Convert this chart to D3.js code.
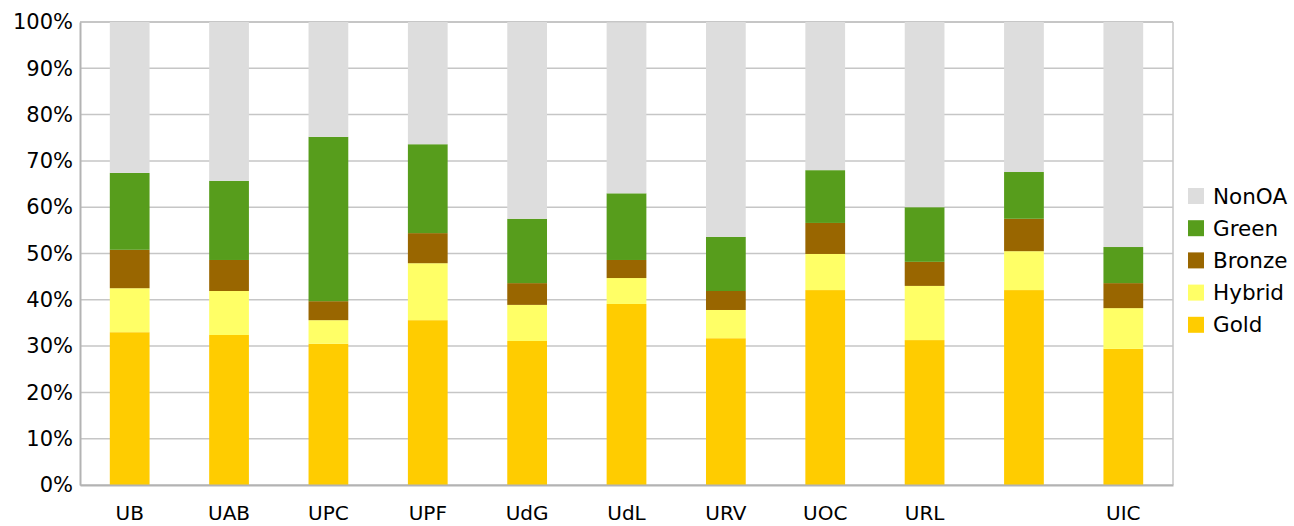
<!DOCTYPE html>
<html>
<head>
<meta charset="utf-8">
<script src="https://cdn.jsdelivr.net/npm/d3@7"></script>
<style>
  body { margin: 0; background: #fff; }
  svg text { font-family: "DejaVu Sans", Verdana, sans-serif; fill: #000; }
</style>
</head>
<body>
<svg id="chart"></svg>
<script>
// universities (the tenth one has no label in the original)
var categories = ["UB", "UAB", "UPC", "UPF", "UdG", "UdL", "URV", "UOC", "URL", "", "UIC"];
var series = ["Gold", "Hybrid", "Bronze", "Green", "NonOA"];

// percentages per series, same order as categories
var gold   = [33.0, 32.4, 30.5, 35.6, 31.1, 39.1, 31.7, 42.1, 31.3, 42.1, 29.4];
var hybrid = [ 9.5,  9.5,  5.1, 12.3,  7.8,  5.6,  6.1,  7.8, 11.7,  8.4,  8.8];
var bronze = [ 8.3,  6.7,  4.1,  6.5,  4.7,  3.9,  4.1,  6.7,  5.2,  7.0,  5.4];
var green  = [16.6, 17.1, 35.5, 19.2, 13.9, 14.4, 11.7, 11.4, 11.8, 10.1,  7.8];
var nonoa  = [32.6, 34.3, 24.8, 26.4, 42.5, 36.9, 46.4, 32.0, 40.0, 32.4, 48.6];

var yTicks = [0, 10, 20, 30, 40, 50, 60, 70, 80, 90, 100];
var colors = ["#ffcc00", "#ffff66", "#996600", "#579d1c", "#dddddd"];

var width = 1294, height = 526;
var margin = {top: 22, right: 121, bottom: 41, left: 80};

var values = [gold, hybrid, bronze, green, nonoa];
var rows = categories.map(function(c, i) {
    var r = {idx: i, name: c};
    series.forEach(function(s, k) { r[s] = values[k][i]; });
    return r;
});

var svg = d3.select("#chart").attr("width", width).attr("height", height);

var x = d3.scaleBand()
    .domain(d3.range(categories.length))
    .range([margin.left, width - margin.right])
    .paddingInner(0.6)
    .paddingOuter(0.3);

var y = d3.scaleLinear()
    .domain([0, 100])
    .range([height - margin.bottom, margin.top]);

var color = d3.scaleOrdinal().domain(series).range(colors);

// gridlines
svg.append("g")
    .selectAll("line")
    .data(yTicks)
    .enter()
    .append("line")
    .attr("x1", margin.left)
    .attr("x2", width - margin.right)
    .attr("y1", function(d) { return y(d); })
    .attr("y2", function(d) { return y(d); })
    .attr("stroke", function(d) { return d == 100 ? "#b3b3b3" : "#c6c6c6"; })
    .attr("stroke-width", 1.5);

// right border
svg.append("line")
    .attr("x1", width - margin.right).attr("x2", width - margin.right)
    .attr("y1", margin.top).attr("y2", height - margin.bottom)
    .attr("stroke", "#c6c6c6").attr("stroke-width", 1.5);

var stack = d3.stack().keys(series);

svg.append("g")
    .selectAll("g")
    .data(stack(rows))
    .enter()
    .append("g")
    .attr("fill", function(d) { return color(d.key); })
    .selectAll("rect")
    .data(function(d) { return d; })
    .enter()
    .append("rect")
    .attr("x", function(d) { return x(d.data.idx); })
    .attr("width", x.bandwidth())
    .attr("y", function(d) { return y(d[1]); })
    .attr("height", function(d) { return y(d[0]) - y(d[1]); });

// y axis
var yAxis = svg.append("g")
    .attr("transform", "translate(" + margin.left + ",0)")
    .call(d3.axisLeft(y).tickValues(yTicks).tickSize(0).tickPadding(7)
        .tickFormat(function(d) { return d + "%"; }));
yAxis.select(".domain").attr("stroke", "#b3b3b3").attr("stroke-width", 2);
yAxis.selectAll("text").attr("font-size", "21px").attr("fill", "#000");

// x axis
var xAxis = svg.append("g")
    .attr("transform", "translate(0," + (height - margin.bottom) + ")")
    .call(d3.axisBottom(x).tickSize(0).tickPadding(21)
        .tickFormat(function(i) { return categories[i]; }));
xAxis.select(".domain").attr("stroke", "#b3b3b3").attr("stroke-width", 2);
xAxis.selectAll("text").attr("font-size", "20px").attr("fill", "#000");

// legend, NonOA on top
var legend = svg.append("g")
    .selectAll("g")
    .data(series.slice().reverse())
    .enter()
    .append("g")
    .attr("transform", function(d, i) { return "translate(1188," + (188 + i * 32.2) + ")"; });

legend.append("rect")
    .attr("width", 16)
    .attr("height", 16)
    .attr("fill", function(d) { return color(d); });

legend.append("text")
    .attr("x", 25)
    .attr("y", 8)
    .attr("dy", "0.35em")
    .attr("font-size", "21.5px")
    .text(function(d) { return d; });
</script>
</body>
</html>
